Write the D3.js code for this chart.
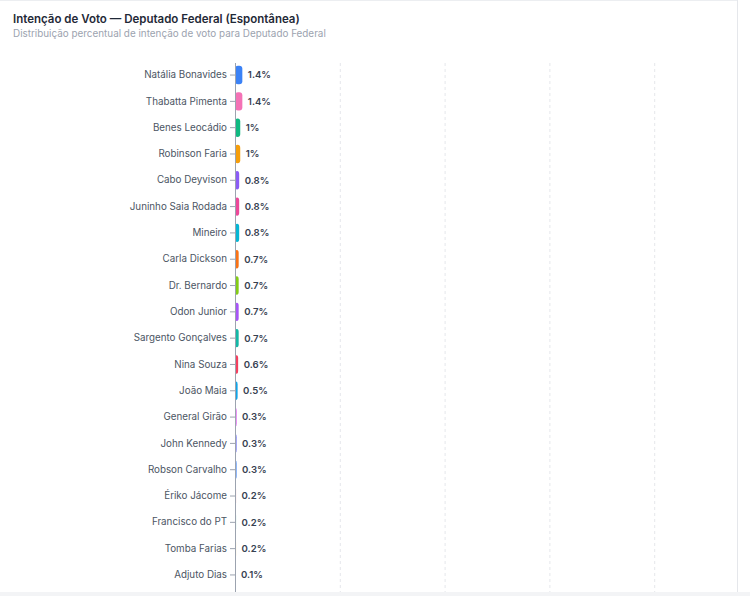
<!DOCTYPE html>
<html>
<head>
<meta charset="utf-8">
<script src="https://cdn.jsdelivr.net/npm/d3@7"></script>
<style>
  html, body { margin: 0; padding: 0; background: #ffffff; }
  svg { display: block; font-family: Inter, "Noto Sans", sans-serif; }
</style>
</head>
<body>
<svg id="chart" width="750" height="596"></svg>
<script>
const categories = [
  "Natália Bonavides", "Thabatta Pimenta", "Benes Leocádio", "Robinson Faria",
  "Cabo Deyvison", "Juninho Saia Rodada", "Mineiro", "Carla Dickson",
  "Dr. Bernardo", "Odon Junior", "Sargento Gonçalves", "Nina Souza",
  "João Maia", "General Girão", "John Kennedy", "Robson Carvalho",
  "Ériko Jácome", "Francisco do PT", "Tomba Farias", "Adjuto Dias"
];
const values = [1.4, 1.4, 1, 1, 0.8, 0.8, 0.8, 0.7, 0.7, 0.7, 0.7, 0.6, 0.5, 0.3, 0.3, 0.3, 0.2, 0.2, 0.2, 0.1];
const colors = [
  "#3b82f6", "#f472b6", "#10b981", "#f59e0b", "#8b5cf6", "#ec4899", "#06b6d4", "#f97316",
  "#84cc16", "#a855f7", "#14b8a6", "#f43f5e", "#0ea5e9", "#d946ef", "#6366f1", "#3b82f6",
  "#ef4444", "#10b981", "#f59e0b", "#8b5cf6"
];
const xTicks = [0, 20, 40, 60, 80, 100];
const title = "Intenção de Voto — Deputado Federal (Espontânea)";
const subtitle = "Distribuição percentual de intenção de voto para Deputado Federal";

const data = categories.map((c, i) => ({ name: c, value: values[i], color: colors[i] }));

const svg = d3.select("#chart");

// page background & card
svg.append("rect").attr("x", 0).attr("y", 0).attr("width", 750).attr("height", 596).attr("fill", "#f3f4f6");
svg.append("rect").attr("x", 0).attr("y", 0).attr("width", 750).attr("height", 592).attr("fill", "#ffffff");
svg.append("line").attr("x1", 0).attr("x2", 737).attr("y1", 0.5).attr("y2", 0.5).attr("stroke", "#eceef1");
svg.append("line").attr("x1", 737.5).attr("x2", 737.5).attr("y1", 0).attr("y2", 592).attr("stroke", "#e5e7eb");

svg.append("text").attr("x", 13).attr("y", 23)
  .attr("font-size", 11.5).attr("font-weight", 600).attr("fill", "#1f2937").text(title);
svg.append("text").attr("x", 13).attr("y", 37)
  .attr("font-size", 9.9).attr("fill", "#9ca3af").text(subtitle);

const mLeft = 235, mTop = 64, plotBottom = 586;
const x = d3.scaleLinear().domain([0, 100]).range([mLeft, mLeft + 524]);
const y = d3.scaleBand().domain(categories).range([mTop, plotBottom]).paddingInner(0.3).paddingOuter(0.07);

const clip = svg.append("defs").append("clipPath").attr("id", "card");
clip.append("rect").attr("x", 0).attr("y", 0).attr("width", 737).attr("height", 592);

const g = svg.append("g").attr("clip-path", "url(#card)");

// gridlines
g.selectAll("line.grid").data(xTicks.filter(t => t > 0)).join("line")
  .attr("class", "grid")
  .attr("x1", d => x(d) + 0.5).attr("x2", d => x(d) + 0.5)
  .attr("y1", mTop - 1).attr("y2", 592)
  .attr("stroke", "#e5e7eb").attr("stroke-width", 1).attr("stroke-dasharray", "3,3");

// bars
g.selectAll("rect.bar").data(data).join("rect")
  .attr("class", "bar")
  .attr("x", x(0))
  .attr("y", d => y(d.name))
  .attr("width", d => x(d.value) - x(0))
  .attr("height", y.bandwidth())
  .attr("rx", 3)
  .attr("fill", d => d.color);

// value labels
const fmt = v => d3.format("~g")(v) + "%";
g.selectAll("text.val").data(data).join("text")
  .attr("class", "val")
  .attr("x", d => x(d.value) + 5.5)
  .attr("y", d => y(d.name) + y.bandwidth() / 2)
  .attr("dy", "0.35em")
  .attr("font-size", 9.6).attr("font-weight", 600).attr("fill", "#374151")
  .text(d => fmt(d.value));

// y axis
const yAxis = svg.append("g").attr("transform", `translate(${mLeft},0)`)
  .call(d3.axisLeft(y).tickSize(5).tickPadding(3));
yAxis.select(".domain").attr("stroke", "#9ca3af").attr("d", `M0.5,${mTop - 1}V592`);
yAxis.selectAll(".tick line").attr("stroke", "#9ca3af");
yAxis.selectAll(".tick text").attr("font-size", 9.8).attr("fill", "#4b5563")
  .attr("font-family", "Inter, 'Noto Sans', sans-serif");
</script>
</body>
</html>
